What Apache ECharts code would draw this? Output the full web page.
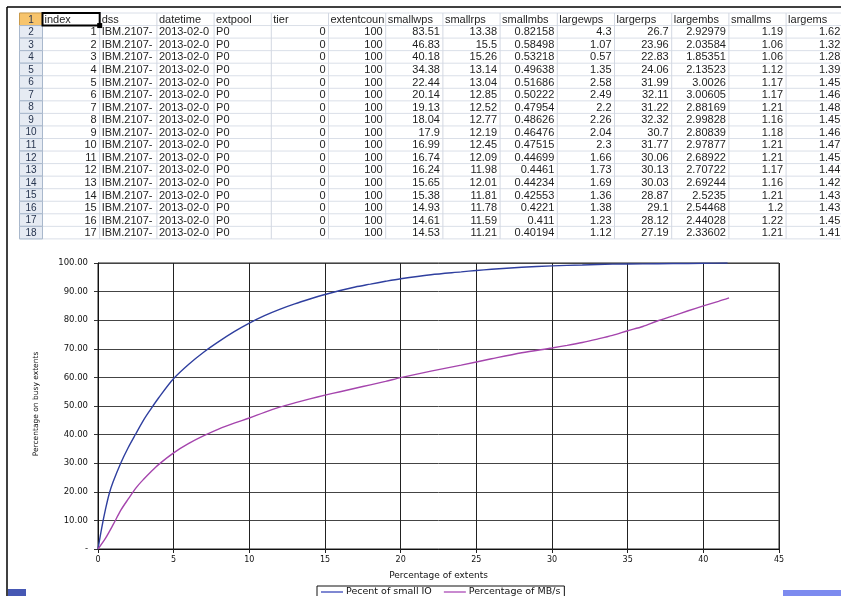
<!DOCTYPE html>
<html>
<head>
<meta charset="utf-8">
<script src="https://cdn.jsdelivr.net/npm/echarts@6/dist/echarts.min.js"></script>
<style>
  html, body { margin: 0; padding: 0; background: #fff; }
  #chart { width: 841px; height: 596px; }
</style>
</head>
<body>
<div id="chart"></div>
<script>
// ---- worksheet rows ----
const headers = ['index', 'dss', 'datetime', 'extpool', 'tier', 'extentcount', 'smallwps', 'smallrps',
  'smallmbs', 'largewps', 'largerps', 'largembs', 'smallms', 'largems'];
const indexCol = [1, 2, 3, 4, 5, 6, 7, 8, 9, 10, 11, 12, 13, 14, 15, 16, 17];
const dssValue = 'IBM.2107-75';
const datetimeValue = '2013-02-05';
const extpoolValue = 'P0';
const tierValue = 0;
const extentCountValue = 100;
const smallwps = ['83.51', '46.83', '40.18', '34.38', '22.44', '20.14', '19.13', '18.04', '17.9', '16.99', '16.74', '16.24', '15.65', '15.38', '14.93', '14.61', '14.53'];
const smallrps = ['13.38', '15.5', '15.26', '13.14', '13.04', '12.85', '12.52', '12.77', '12.19', '12.45', '12.09', '11.98', '12.01', '11.81', '11.78', '11.59', '11.21'];
const smallmbs = ['0.82158', '0.58498', '0.53218', '0.49638', '0.51686', '0.50222', '0.47954', '0.48626', '0.46476', '0.47515', '0.44699', '0.4461', '0.44234', '0.42553', '0.4221', '0.411', '0.40194'];
const largewps = ['4.3', '1.07', '0.57', '1.35', '2.58', '2.49', '2.2', '2.26', '2.04', '2.3', '1.66', '1.73', '1.69', '1.36', '1.38', '1.23', '1.12'];
const largerps = ['26.7', '23.96', '22.83', '24.06', '31.99', '32.11', '31.22', '32.32', '30.7', '31.77', '30.06', '30.13', '30.03', '28.87', '29.1', '28.12', '27.19'];
const largembs = ['2.92979', '2.03584', '1.85351', '2.13523', '3.0026', '3.00605', '2.88169', '2.99828', '2.80839', '2.97877', '2.68922', '2.70722', '2.69244', '2.5235', '2.54468', '2.44028', '2.33602'];
const smallms = ['1.19', '1.06', '1.06', '1.12', '1.17', '1.17', '1.21', '1.16', '1.18', '1.21', '1.21', '1.17', '1.16', '1.21', '1.2', '1.22', '1.21'];
const largems = ['1.62', '1.32', '1.28', '1.39', '1.45', '1.46', '1.48', '1.45', '1.46', '1.47', '1.45', '1.44', '1.42', '1.43', '1.43', '1.45', '1.41'];

// ---- cumulative curves ----
const smallIoX = [0, 0.25, 0.5, 0.75, 1, 1.5, 2, 2.5, 3, 3.5, 4, 5, 6, 7, 8, 9, 10, 11, 12, 13, 14, 15, 16, 17, 18, 19, 20, 22, 24, 25, 26, 28, 30, 32, 34, 36, 38, 40, 41.6];
const smallIoY = [0, 7.5, 14, 19.5, 23.5, 30, 35.5, 40.3, 45, 49, 52.8, 59.6, 64.6, 68.9, 72.6, 76, 79, 81.6, 83.8, 85.7, 87.4, 89, 90.4, 91.6, 92.6, 93.6, 94.5, 95.9, 96.9, 97.4, 97.8, 98.5, 99.0, 99.3, 99.6, 99.7, 99.8, 99.9, 100];
const mbX = [0, 0.5, 1, 1.5, 2, 2.5, 3, 3.5, 4, 5, 6, 7, 8, 9, 10, 11, 12, 13, 14, 15, 16, 17, 18, 19, 20, 22, 24, 26, 28, 30, 31, 32, 33, 34, 35, 36, 37, 38, 39, 40, 41, 41.7];
const mbY = [0, 3.8, 8.5, 13.5, 17.5, 21.3, 24.3, 27, 29.5, 33.6, 36.9, 39.6, 42, 44, 45.8, 47.8, 49.6, 51.1, 52.5, 53.8, 55, 56.2, 57.4, 58.6, 59.9, 62.2, 64.3, 66.5, 68.6, 70.3, 71.2, 72.2, 73.4, 74.7, 76.3, 77.8, 79.8, 81.5, 83.3, 85, 86.6, 87.8];
const xTicks = [0, 5, 10, 15, 20, 25, 30, 35, 40, 45];

// ---- worksheet drawing ----
const FONT = '"Liberation Sans", Arial, sans-serif';
const CHART_FONT = '"DejaVu Sans", Verdana, sans-serif';
const colX0 = 42.5, colW = 57.2, rowTop = 13, rowH = 12.55, hdrX0 = 19.5;
const sheet = [];

function textCell(str, col, row, align) {
  const left = colX0 + col * colW;
  const x = align === 'right' ? left + colW - 3 : left + 2;
  sheet.push({
    type: 'text', x: x, y: rowTop + row * rowH + rowH / 2 + 0.5, silent: true,
    style: {
      text: String(str), font: '11px ' + FONT, fill: '#1e1e1e',
      textAlign: align, textVerticalAlign: 'middle',
      width: colW - 2, overflow: 'truncate', ellipsis: ''
    }
  });
}

// cell grid
for (let r = 0; r <= 18; r++) {
  sheet.push({ type: 'line', silent: true, shape: { x1: hdrX0, y1: rowTop + r * rowH, x2: 841, y2: rowTop + r * rowH },
    style: { stroke: '#dadfe8', lineWidth: 1 } });
}
for (let c = 0; c <= 14; c++) {
  sheet.push({ type: 'line', silent: true, shape: { x1: colX0 + c * colW, y1: rowTop, x2: colX0 + c * colW, y2: rowTop + 18 * rowH },
    style: { stroke: '#d3d8e2', lineWidth: 1 } });
}
// row header column
for (let r = 0; r < 18; r++) {
  const y = rowTop + r * rowH;
  sheet.push({ type: 'rect', silent: true, shape: { x: hdrX0, y: y, width: colX0 - hdrX0, height: rowH },
    style: { fill: r === 0 ? '#f7c46c' : '#e6ebf3', stroke: r === 0 ? '#c99a4a' : '#a9b8cc', lineWidth: 1 } });
  sheet.push({ type: 'text', silent: true, x: (hdrX0 + colX0) / 2, y: y + rowH / 2 + 0.5,
    style: { text: String(r + 1), font: '10px ' + FONT, fill: '#27354f', textAlign: 'center', textVerticalAlign: 'middle' } });
}
// header row
headers.forEach((h, c) => textCell(h, c, 0, 'left'));
// data rows
indexCol.forEach((idx, i) => {
  const r = i + 1;
  textCell(idx, 0, r, 'right');
  textCell(dssValue, 1, r, 'left');
  textCell(datetimeValue, 2, r, 'left');
  textCell(extpoolValue, 3, r, 'left');
  textCell(tierValue, 4, r, 'right');
  textCell(extentCountValue, 5, r, 'right');
  textCell(smallwps[i], 6, r, 'right');
  textCell(smallrps[i], 7, r, 'right');
  textCell(smallmbs[i], 8, r, 'right');
  textCell(largewps[i], 9, r, 'right');
  textCell(largerps[i], 10, r, 'right');
  textCell(largembs[i], 11, r, 'right');
  textCell(smallms[i], 12, r, 'right');
  textCell(largems[i], 13, r, 'right');
});
// active cell A1
sheet.push({ type: 'rect', silent: true, shape: { x: colX0, y: rowTop, width: colW, height: rowH },
  style: { fill: null, stroke: '#000', lineWidth: 2 } });
sheet.push({ type: 'rect', silent: true, shape: { x: colX0 + colW - 2.5, y: rowTop + rowH - 2.5, width: 5, height: 5 },
  style: { fill: '#000' } });
// window frame and bottom strip pieces
sheet.push({ type: 'line', silent: true, shape: { x1: 7, y1: 7, x2: 841, y2: 7 }, style: { stroke: '#000', lineWidth: 1.5 } });
sheet.push({ type: 'line', silent: true, shape: { x1: 7, y1: 7, x2: 7, y2: 596 }, style: { stroke: '#000', lineWidth: 1.5 } });
sheet.push({ type: 'rect', silent: true, shape: { x: 8, y: 589, width: 18, height: 7 }, style: { fill: '#4658b4' } });
sheet.push({ type: 'rect', silent: true, shape: { x: 783, y: 590, width: 58, height: 6 }, style: { fill: '#7d8bef' } });
// y axis title
sheet.push({ type: 'text', silent: true, x: 36, y: 404, rotation: Math.PI / 2,
  style: { text: 'Percentage on busy extents', font: '7.5px ' + CHART_FONT, fill: '#111', textAlign: 'center', textVerticalAlign: 'middle' } });

const chart = echarts.init(document.getElementById('chart'), null, { renderer: 'canvas' });
chart.setOption({
  backgroundColor: '#fff',
  animation: false,
  textStyle: { fontFamily: CHART_FONT },
  grid: { left: 98, top: 263, width: 681, height: 286, show: true, borderColor: '#222', borderWidth: 1 },
  legend: {
    left: 317, top: 586,
    padding: [1, 4, 4, 4],
    itemGap: 12,
    borderColor: '#111', borderWidth: 1,
    icon: 'rect', itemWidth: 22, itemHeight: 2,
    textStyle: { fontSize: 9.5, color: '#111', padding: [0, 0, 0, -2] },
    data: [
      { name: 'Pecent of small IO', itemStyle: { color: '#7f88d2' } },
      { name: 'Percentage of MB/s', itemStyle: { color: '#c98ad0' } }
    ]
  },
  xAxis: {
    type: 'value', min: 0, max: 45, interval: 5,
    name: 'Percentage of extents', nameLocation: 'middle', nameGap: 22,
    nameTextStyle: { fontSize: 9, color: '#111' },
    axisLine: { lineStyle: { color: '#111', width: 1 } },
    axisTick: { show: true, length: 4, lineStyle: { color: '#222' } },
    axisLabel: { fontSize: 8, color: '#111', margin: 7, formatter: v => (xTicks.indexOf(v) >= 0 ? String(v) : '') },
    splitLine: { show: true, lineStyle: { color: '#222', width: 1 } }
  },
  yAxis: {
    type: 'value', min: 0, max: 100, interval: 10,
    axisLine: { show: true, lineStyle: { color: '#111', width: 1 } },
    axisTick: { show: true, length: 4, lineStyle: { color: '#333' } },
    axisLabel: { fontSize: 8.5, color: '#111', margin: 10, formatter: v => (v === 0 ? '-' : v.toFixed(2)) },
    splitLine: { show: true, lineStyle: { color: '#444', width: 1 } }
  },
  series: [
    {
      name: 'Pecent of small IO', type: 'line', showSymbol: false, smooth: 0.3,
      color: '#2f3f9f',
      lineStyle: { width: 1.4, color: '#2f3f9f' },
      data: smallIoX.map((x, i) => [x, smallIoY[i]])
    },
    {
      name: 'Percentage of MB/s', type: 'line', showSymbol: false, smooth: 0.3,
      color: '#a545ad',
      lineStyle: { width: 1.4, color: '#a545ad' },
      data: mbX.map((x, i) => [x, mbY[i]])
    }
  ],
  graphic: sheet
});
</script>
</body>
</html>
